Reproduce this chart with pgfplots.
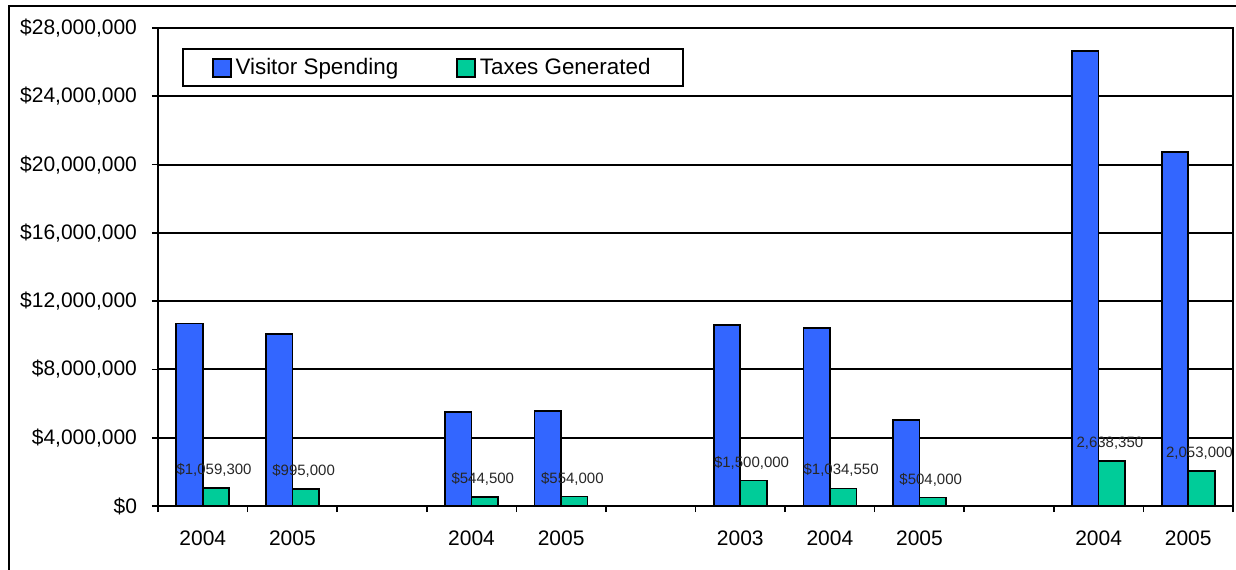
\documentclass[border=0pt]{standalone}
\usepackage{pgfplots}
\pgfplotsset{compat=1.18}
\usepackage{fontspec}
\setmainfont{Liberation Sans}
\definecolor{visblue}{RGB}{51,102,255}
\definecolor{taxgreen}{RGB}{0,204,153}
\begin{document}
\begin{tikzpicture}
\path[use as bounding box] (-79pt,-31.5pt) rectangle (539pt,253pt);
\begin{scope}
\clip (-79pt,-31.5pt) rectangle (539pt,253pt);
\draw[line width=1pt] (-74.25pt,-60pt) -- (-74.25pt,250pt) -- (600pt,250pt);
\end{scope}
\begin{axis}[
  at={(0,0)}, anchor=south west,
  scale only axis, width=537.5pt, height=239pt,
  ybar=0pt, bar width=13.25pt,
  xmin=-0.5, xmax=11.5, ymin=0, ymax=28000000,
  enlargelimits=false,
  xtick={0,1,3,4,6,7,8,10,11},
  xticklabels={2004,2005,2004,2005,2003,2004,2005,2004,2005},
  minor xtick={-0.5,0.5,1.5,2.5,3.5,4.5,5.5,6.5,7.5,8.5,9.5,10.5,11.5},
  ytick={0,4000000,8000000,12000000,16000000,20000000,24000000,28000000},
  yticklabels={{\$0},{\$4,000,000},{\$8,000,000},{\$12,000,000},{\$16,000,000},{\$20,000,000},{\$24,000,000},{\$28,000,000}},
  scaled y ticks=false,
  ymajorgrids,
  major grid style={black, line width=1pt},
  axis line style={line width=1pt},
  tick align=outside, major tick length=3pt, minor tick length=3pt,
  tick pos=left,
  major x tick style={draw=none},
  minor x tick style={black, line width=0.8pt},
  ytick style={black, line width=0.8pt},
  tick label style={font=\fontsize{10.5}{12}\selectfont},
  yticklabel style={xshift=-4pt},
  xticklabel style={yshift=-6pt},
  legend style={at={(0.0223,0.958)}, anchor=north west, draw=black, line width=1pt,
    font=\fontsize{11.2}{13}\selectfont,
    /tikz/every even column/.append style={column sep=27pt},
    inner xsep=14.5pt, inner ysep=2.5pt},
  legend columns=2,
  legend image code/.code={\draw[#1, line width=0.8pt] (0pt,-4.5pt) rectangle (9pt,4.5pt);},
]
\addplot[fill=visblue, draw=black, line width=0.8pt] table {
x y
0 10700000
1 10070000
3 5490000
4 5560000
6 10600000
7 10440000
8 5040000
10 26660000
11 20730000
};
\addplot[fill=taxgreen, draw=black, line width=0.8pt,
  nodes near coords, point meta=explicit symbolic,
  nodes near coords style={font=\fontsize{7.5}{9}\selectfont, text=black!85, anchor=south, yshift=2pt, xshift=-1pt}]
  table[meta=label] {
x y label
0 1059300 {\$1,059,300}
1 995000 {\$995,000}
3 544500 {\$544,500}
4 554000 {\$554,000}
6 1500000 {\$1,500,000}
7 1034550 {\$1,034,550}
8 504000 {\$504,000}
10 2638350 {2,638,350}
11 2053000 {2,053,000}
};
\legend{Visitor Spending, Taxes Generated}
\end{axis}
\end{tikzpicture}
\end{document}
